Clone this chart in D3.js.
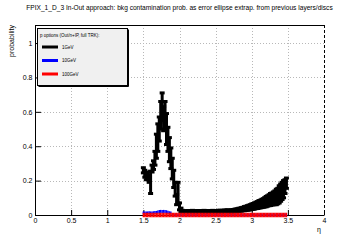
<!DOCTYPE html>
<html>
<head>
<meta charset="utf-8">
<script src="https://cdn.jsdelivr.net/npm/d3@7"></script>
<style>
  body { margin: 0; background: #fff; }
  text { font-family: 'Liberation Sans', Arial, sans-serif; fill: #000; }
</style>
</head>
<body>
<div id="container"></div>
<script>
const WIDTH = 360;
const HEIGHT = 240;
const MARGIN = { TOP: 25, BOTTOM: 25, LEFT: 35, RIGHT: 36 };

const width = WIDTH - MARGIN.LEFT - MARGIN.RIGHT;
const height = HEIGHT - MARGIN.TOP - MARGIN.BOTTOM;

const TITLE = 'FPIX_1_D_3 In-Out approach: bkg contamination prob. as error ellipse extrap. from previous layers/discs';
const LEGEND_HEADER = 'p options (Out/n+IP, full TRK):';
const LEGEND_LABELS = ['1GeV', '10GeV', '100GeV'];
const SERIES_COLORS = ['#000000', '#0000ff', '#ff0000'];

const X_TICKS = [0, 0.5, 1, 1.5, 2, 2.5, 3, 3.5, 4];
const Y_TICKS = [0, 0.2, 0.4, 0.6, 0.8, 1];

// histogram binning in eta (100 bins of 0.02 from 1.49)
const BIN_LOW = 1.49;
const BIN_WIDTH = 0.02;

// 1GeV
const p1Values = [
    0.26, 0.24, 0.22, 0.23, 0.21, 0.19, 0.27, 0.29, 0.33, 0.40,
    0.45, 0.50, 0.58, 0.63, 0.56, 0.60, 0.50, 0.44, 0.38, 0.33,
    0.27, 0.21, 0.15, 0.09, 0.13, 0.05, 0.03, 0.022, 0.02, 0.018,
    0.02, 0.021, 0.019, 0.02, 0.022, 0.02, 0.018, 0.02, 0.021, 0.02,
    0.019, 0.02, 0.022, 0.021, 0.02, 0.019, 0.02, 0.021, 0.022, 0.02,
    0.021, 0.02, 0.022, 0.023, 0.021, 0.022, 0.024, 0.023, 0.025, 0.024,
    0.022, 0.024, 0.025, 0.026, 0.027, 0.028, 0.03, 0.031, 0.033, 0.035,
    0.037, 0.039, 0.041, 0.043, 0.045, 0.048, 0.05, 0.053, 0.056, 0.058,
    0.062, 0.064, 0.067, 0.07, 0.074, 0.078, 0.082, 0.086, 0.09, 0.093,
    0.097, 0.10, 0.105, 0.11, 0.12, 0.13, 0.14, 0.15, 0.165, 0.185
];
const p1Errors = [
    0.015, 0.02, 0.015, 0.02, 0.02, 0.065, 0.02, 0.025, 0.04, 0.07,
    0.08, 0.07, 0.08, 0.08, 0.07, 0.06, 0.09, 0.07, 0.07, 0.06,
    0.06, 0.05, 0.04, 0.03, 0.06, 0.02, 0.01, 0.005, 0.005, 0.005,
    0.005, 0.005, 0.005, 0.005, 0.005, 0.005, 0.005, 0.005, 0.005, 0.005,
    0.005, 0.005, 0.005, 0.005, 0.005, 0.005, 0.005, 0.005, 0.005, 0.005,
    0.005, 0.005, 0.005, 0.005, 0.005, 0.005, 0.005, 0.005, 0.005, 0.005,
    0.006, 0.006, 0.007, 0.007, 0.008, 0.008, 0.009, 0.009, 0.01, 0.01,
    0.012, 0.012, 0.013, 0.014, 0.015, 0.016, 0.017, 0.018, 0.019, 0.02,
    0.022, 0.022, 0.024, 0.025, 0.027, 0.03, 0.03, 0.032, 0.035, 0.035,
    0.037, 0.04, 0.045, 0.045, 0.05, 0.05, 0.05, 0.05, 0.04, 0.03
];

// 10GeV
const p10Values = [
    0.012, 0.012, 0.011, 0.012, 0.013, 0.012, 0.012, 0.013, 0.014, 0.015,
    0.018, 0.02, 0.021, 0.02, 0.021, 0.02, 0.019, 0.016, 0.013, 0.012,
    0, 0, 0, 0, 0, 0, 0, 0, 0, 0, 0, 0, 0, 0, 0, 0, 0, 0, 0, 0,
    0, 0, 0, 0, 0, 0, 0, 0, 0, 0, 0, 0, 0, 0, 0, 0, 0, 0, 0, 0,
    0, 0, 0, 0, 0, 0, 0, 0, 0, 0, 0, 0, 0, 0, 0, 0, 0, 0, 0, 0,
    0, 0, 0, 0, 0, 0, 0, 0, 0, 0, 0, 0, 0, 0, 0, 0, 0, 0, 0, 0
];

// 100GeV
const p100Values = [
    0, 0, 0, 0, 0, 0, 0, 0, 0, 0, 0, 0, 0, 0, 0, 0, 0, 0, 0, 0,
    0, 0, 0, 0, 0, 0, 0, 0, 0, 0, 0, 0, 0, 0, 0, 0, 0, 0, 0, 0,
    0, 0, 0, 0, 0, 0, 0, 0, 0, 0, 0, 0, 0, 0, 0, 0, 0, 0, 0, 0,
    0, 0, 0, 0, 0, 0, 0, 0, 0, 0, 0, 0, 0, 0, 0, 0, 0, 0, 0, 0,
    0, 0, 0, 0, 0, 0, 0, 0, 0, 0, 0, 0, 0, 0, 0, 0, 0, 0, 0, 0
];

const svg = d3.select('#container')
              .append('svg')
                .attr('width', WIDTH)
                .attr('height', HEIGHT);

svg.append('rect')
     .attr('width', WIDTH)
     .attr('height', HEIGHT)
     .attr('fill', '#fff');

svg.append('text')
     .attr('x', 179.5)
     .attr('y', 10)
     .attr('text-anchor', 'middle')
     .style('font-size', '6.6px')
     .text(TITLE);

const container = svg.append('g')
                     .attr('transform', `translate(${MARGIN.LEFT}, ${MARGIN.TOP})`);

const xscale = d3.scaleLinear().domain([0, 4]).range([0, width]);
const yscale = d3.scaleLinear().domain([0, 1.105]).range([height, 0]);

// grid
container.append('g')
         .selectAll('line')
         .data(X_TICKS.slice(1, -1))
         .join('line')
           .attr('x1', d => Math.round(xscale(d)) + 0.5)
           .attr('x2', d => Math.round(xscale(d)) + 0.5)
           .attr('y1', 0)
           .attr('y2', height)
           .attr('stroke', '#b8b8b8')
           .attr('stroke-dasharray', '1,2');

container.append('g')
         .selectAll('line')
         .data(Y_TICKS.slice(1))
         .join('line')
           .attr('x1', 0)
           .attr('x2', width)
           .attr('y1', d => Math.round(yscale(d)) + 0.5)
           .attr('y2', d => Math.round(yscale(d)) + 0.5)
           .attr('stroke', '#b8b8b8')
           .attr('stroke-dasharray', '1,2');

// frame: top solid, right dashed
container.append('line')
         .attr('x1', 0).attr('x2', width + 0.5)
         .attr('y1', 0.5).attr('y2', 0.5)
         .attr('stroke', '#000');
container.append('line')
         .attr('x1', width + 0.5).attr('x2', width + 0.5)
         .attr('y1', 0).attr('y2', height)
         .attr('stroke', '#000')
         .attr('stroke-dasharray', '3,2');

// axes, ticks pointing inside
const xMinor = d3.range(0, 41).map(i => i / 10).filter(d => !X_TICKS.includes(d));
const yMinor = d3.range(0, 23).map(i => i / 20).filter(d => !Y_TICKS.includes(d));

const axisBottom = d3.axisBottom(xscale)
                     .tickValues(X_TICKS)
                     .tickSize(-5)
                     .tickSizeOuter(0)
                     .tickPadding(3)
                     .tickFormat(d => d);
const axisBottomMinor = d3.axisBottom(xscale)
                          .tickValues(xMinor)
                          .tickSize(-2.5)
                          .tickSizeOuter(0)
                          .tickFormat('');
const axisLeft = d3.axisLeft(yscale)
                   .tickValues(Y_TICKS)
                   .tickSize(-6)
                   .tickSizeOuter(0)
                   .tickPadding(2.5)
                   .tickFormat(d => d);
const axisLeftMinor = d3.axisLeft(yscale)
                        .tickValues(yMinor)
                        .tickSize(-3)
                        .tickSizeOuter(0)
                        .tickFormat('');

const gx = container.append('g').attr('transform', `translate(0, ${height})`);
gx.call(axisBottomMinor);
gx.call(axisBottom);
const gy = container.append('g');
gy.call(axisLeftMinor);
gy.call(axisLeft);

svg.selectAll('.tick text').style('font-size', '7px').attr('fill', '#000');
svg.selectAll('.domain, .tick line').attr('stroke', '#000');

container.append('text')
         .attr('x', width - 3)
         .attr('y', height + 17)
         .attr('text-anchor', 'end')
         .style('font-size', '7px')
         .text('η');

svg.append('text')
     .attr('transform', `translate(14, ${MARGIN.TOP}) rotate(-90)`)
     .attr('text-anchor', 'end')
     .style('font-size', '7px')
     .text('probability');

// series: horizontal bin line + vertical error bar with caps
const binCenter = i => BIN_LOW + (i + 0.5) * BIN_WIDTH;

function drawSeries(values, errors, color, lw) {
    const rows = values.map((v, i) => ({ i, v, e: errors ? errors[i] : 0 }));
    const g = container.append('g')
                       .attr('stroke', color)
                       .attr('stroke-width', lw)
                       .attr('fill', 'none');

    g.selectAll('.bin')
     .data(rows)
     .join('line')
       .attr('x1', d => xscale(binCenter(d.i) - BIN_WIDTH / 2))
       .attr('x2', d => xscale(binCenter(d.i) + BIN_WIDTH / 2))
       .attr('y1', d => yscale(d.v))
       .attr('y2', d => yscale(d.v));

    const withErr = rows.filter(d => d.e > 0);
    g.selectAll('.err')
     .data(withErr)
     .join('line')
       .attr('x1', d => xscale(binCenter(d.i)))
       .attr('x2', d => xscale(binCenter(d.i)))
       .attr('y1', d => yscale(d.v - d.e))
       .attr('y2', d => yscale(d.v + d.e));

    [-1, 1].forEach(s => {
        g.append('g')
         .selectAll('line')
         .data(withErr)
         .join('line')
           .attr('x1', d => xscale(binCenter(d.i)) - 2.5)
           .attr('x2', d => xscale(binCenter(d.i)) + 2.5)
           .attr('y1', d => yscale(d.v + s * d.e))
           .attr('y2', d => yscale(d.v + s * d.e));
    });
}

drawSeries(p1Values, p1Errors, SERIES_COLORS[0], 3);
drawSeries(p10Values, null, SERIES_COLORS[1], 3);
drawSeries(p100Values, null, SERIES_COLORS[2], 4.5);

// legend
const legend = svg.append('g');
legend.append('rect')
        .attr('x', 37.5).attr('y', 28.5)
        .attr('width', 90).attr('height', 57)
        .attr('fill', '#f0f0f0')
        .attr('stroke', '#000');
legend.append('line')
        .attr('x1', 128.5).attr('x2', 128.5)
        .attr('y1', 29.5).attr('y2', 86.5)
        .attr('stroke', '#000');
legend.append('line')
        .attr('x1', 38.5).attr('x2', 128.5)
        .attr('y1', 86.5).attr('y2', 86.5)
        .attr('stroke', '#000');
legend.append('text')
        .attr('x', 40)
        .attr('y', 37)
        .style('font-size', '4.5px')
        .text(LEGEND_HEADER);

const entries = legend.selectAll('.entry')
                      .data(LEGEND_LABELS)
                      .join('g')
                        .attr('transform', (d, i) => `translate(0, ${47 + i * 13.5})`);
entries.append('line')
         .attr('x1', 42).attr('x2', 58)
         .attr('stroke', (d, i) => SERIES_COLORS[i])
         .attr('stroke-width', 3);
entries.append('text')
         .attr('x', 62)
         .attr('y', 1.6)
         .style('font-size', '4.5px')
         .text(d => d);
</script>
</body>
</html>
